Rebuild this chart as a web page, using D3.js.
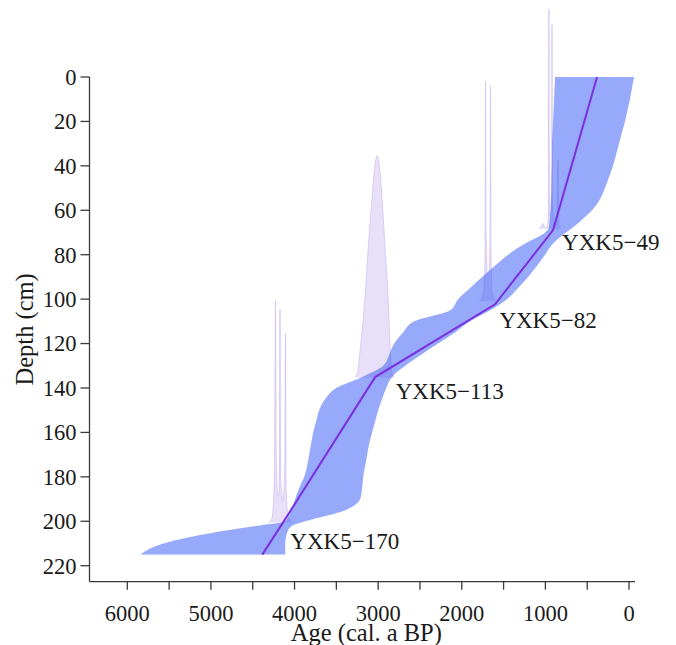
<!DOCTYPE html>
<html>
<head>
<meta charset="utf-8">
<script src="https://cdn.jsdelivr.net/npm/d3@7"></script>
<style>
  html, body { margin: 0; padding: 0; background: #fff; }
  svg { display: block; }
  text { font-family: "Liberation Serif", "Times New Roman", serif; fill: #1a1a1a; }
</style>
</head>
<body>
<svg id="chart" width="676" height="645"></svg>
<script>
// ---------- data ----------
const ageTicks = [6000, 5000, 4000, 3000, 2000, 1000, 0];
const ageMinorTicks = [6000, 5500, 5000, 4500, 4000, 3500, 3000, 2500, 2000, 1500, 1000, 500, 0];
const depthTicks = [0, 20, 40, 60, 80, 100, 120, 140, 160, 180, 200, 220];

// 95% range of the age-depth model
const bandDepth = [0, 5, 10, 15, 20, 25, 30, 35, 40, 45, 50, 55, 60, 65, 68, 70, 75, 80, 85, 90, 95,
  100, 105, 110, 115, 120, 125, 130, 135, 140, 145, 150, 155, 160, 165, 170, 175, 180, 185,
  190, 195, 200, 202, 205, 210, 215];
const bandOldAge = [884, 890, 896, 902, 908, 914, 920, 920, 922, 926, 928, 932, 938, 950, 960, 1004,
  1243, 1446, 1602, 1757, 1900, 2044, 2139, 2570, 2701, 2809, 2868, 2940, 3191, 3502, 3633,
  3705, 3741, 3777, 3801, 3825, 3849, 3884, 3944, 3992, 4040, 4111, 4434, 4960, 5570, 5844];
const bandYoungAge = [-60, -36, -12, 18, 48, 84, 120, 155, 191, 239, 287, 347, 442, 586, 680, 753,
  908, 1004, 1100, 1207, 1327, 1458, 1661, 1900, 2080, 2283, 2486, 2677, 2833, 2904, 2952,
  3000, 3036, 3072, 3107, 3131, 3155, 3179, 3191, 3215, 3394, 3872, 4028, 4088, 4111, 4111];

// weighted mean age-depth line
const meanDepth = [0, 68.9, 102.3, 135.1, 199.7, 215];
const meanAge = [382, 908, 1602, 3036, 4123, 4386];

// calibrated date distributions: label, depth, [age, relative height in cm]
const dateNames = ["YXK5\u221249", "YXK5\u221282", "YXK5\u2212113", "YXK5\u2212170"];
const dateDepths = [68.4, 101, 135.3, 200.6];
const dist49 = [
  [1070, 0], [1045, 1.5], [1030, 2.5], [1015, 1], [985, 0.5], [968, 3], [962, 30],
  [958, 99], [954, 35], [947, 6], [932, 8], [925, 25], [921, 92], [916, 15],
  [900, 3], [865, 2], [853, 30], [847, 31], [840, 2], [810, 0]
];
const dist82 = [
  [1790, 0], [1755, 2], [1735, 6], [1722, 20], [1716, 99], [1709, 30], [1695, 12],
  [1675, 12], [1662, 30], [1656, 97], [1650, 20], [1635, 4], [1610, 1], [1590, 0]
];
const dist113 = [
  [3275, 0], [3245, 2.5], [3215, 12.5], [3160, 35], [3120, 57.5], [3075, 80],
  [3040, 95], [3012, 100], [2985, 95], [2952, 80], [2916, 57.5], [2880, 35],
  [2856, 12.5], [2835, 2.5], [2810, 0]
];
const dist170 = [
  [4310, 0], [4270, 2], [4250, 10], [4236, 40], [4228, 100], [4220, 35], [4200, 12],
  [4182, 15], [4174, 96], [4166, 20], [4140, 10], [4116, 25], [4108, 85], [4100, 15],
  [4080, 4], [4050, 1], [4020, 0]
];
const dists = [dist49, dist82, dist113, dist170];
const labelAges = [800, 1550, 2790, 4050];
const labelDepths = [78, 113, 145, 212.5];

// ---------- drawing ----------
const svg = d3.select("#chart");
const x = d3.scaleLinear().domain([6000, 0]).range([127.3, 629]);
const y = d3.scaleLinear().domain([0, 220]).range([77, 565.7]);

const gDist = svg.append("g");
const distArea = (base) => d3.area()
  .x(d => x(d[0]))
  .y0(y(base))
  .y1(d => y(base - d[1]))
  .curve(d3.curveMonotoneX);
const distLine = (base) => d3.line()
  .x(d => x(d[0]))
  .y(d => y(base - d[1]))
  .curve(d3.curveMonotoneX);
dists.forEach((ds, i) => {
  gDist.append("path")
    .attr("d", distArea(dateDepths[i])(ds))
    .attr("fill", "#d9ccf4")
    .attr("fill-opacity", 0.6);
  gDist.append("path")
    .attr("d", distLine(dateDepths[i])(ds))
    .attr("fill", "none")
    .attr("stroke", "#cbb8f0")
    .attr("stroke-width", 0.8)
    .attr("stroke-opacity", 0.8);
});

// band
const bandIdx = d3.range(bandDepth.length);
svg.append("path")
  .attr("d", d3.area()
    .y(i => y(bandDepth[i]))
    .x0(i => x(bandOldAge[i]))
    .x1(i => x(bandYoungAge[i]))
    .curve(d3.curveMonotoneY)(bandIdx))
  .attr("fill", "rgb(58, 92, 246)")
  .attr("fill-opacity", 0.53);

// mean line
svg.append("path")
  .attr("d", d3.line().x(i => x(meanAge[i])).y(i => y(meanDepth[i]))(d3.range(meanAge.length)))
  .attr("fill", "none")
  .attr("stroke", "#7a2fe0")
  .attr("stroke-width", 2);

// labels
dateNames.forEach((n, i) => {
  svg.append("text")
    .attr("x", x(labelAges[i]))
    .attr("y", y(labelDepths[i]))
    .attr("font-size", 23)
    .text(n);
});

// axes
const axisColor = "#3a3a3a";
const gx = svg.append("g").attr("transform", `translate(0,581.7)`);
gx.append("line")
  .attr("x1", x(6450)).attr("x2", x(-72))
  .attr("stroke", axisColor).attr("stroke-width", 1.3);
gx.selectAll("line.tick").data(ageMinorTicks).join("line")
  .attr("class", "tick")
  .attr("x1", d => x(d)).attr("x2", d => x(d))
  .attr("y1", 0).attr("y2", 8)
  .attr("stroke", axisColor).attr("stroke-width", 1.3);
gx.selectAll("text").data(ageTicks).join("text")
  .attr("x", d => x(d)).attr("y", 39.5)
  .attr("text-anchor", "middle")
  .attr("font-size", 22.5)
  .text(d => d);
svg.append("text")
  .attr("x", (x(6450) + x(-72)) / 2 + 4).attr("y", 640.5)
  .attr("text-anchor", "middle")
  .attr("font-size", 24.5)
  .text("Age (cal. a BP)");

const gy = svg.append("g").attr("transform", `translate(89.5,0)`);
gy.append("line")
  .attr("y1", y(0)).attr("y2", 581.7)
  .attr("stroke", axisColor).attr("stroke-width", 1.3);
gy.selectAll("line.tick").data(depthTicks).join("line")
  .attr("class", "tick")
  .attr("y1", d => y(d)).attr("y2", d => y(d))
  .attr("x1", -9).attr("x2", 0)
  .attr("stroke", axisColor).attr("stroke-width", 1.3);
gy.selectAll("text").data(depthTicks).join("text")
  .attr("x", -13).attr("y", d => y(d))
  .attr("dy", "0.35em")
  .attr("text-anchor", "end")
  .attr("font-size", 22.5)
  .text(d => d);
svg.append("text")
  .attr("transform", `translate(33,${(y(0) + 581.7) / 2}) rotate(-90)`)
  .attr("text-anchor", "middle")
  .attr("font-size", 24.5)
  .text("Depth (cm)");
</script>
</body>
</html>
